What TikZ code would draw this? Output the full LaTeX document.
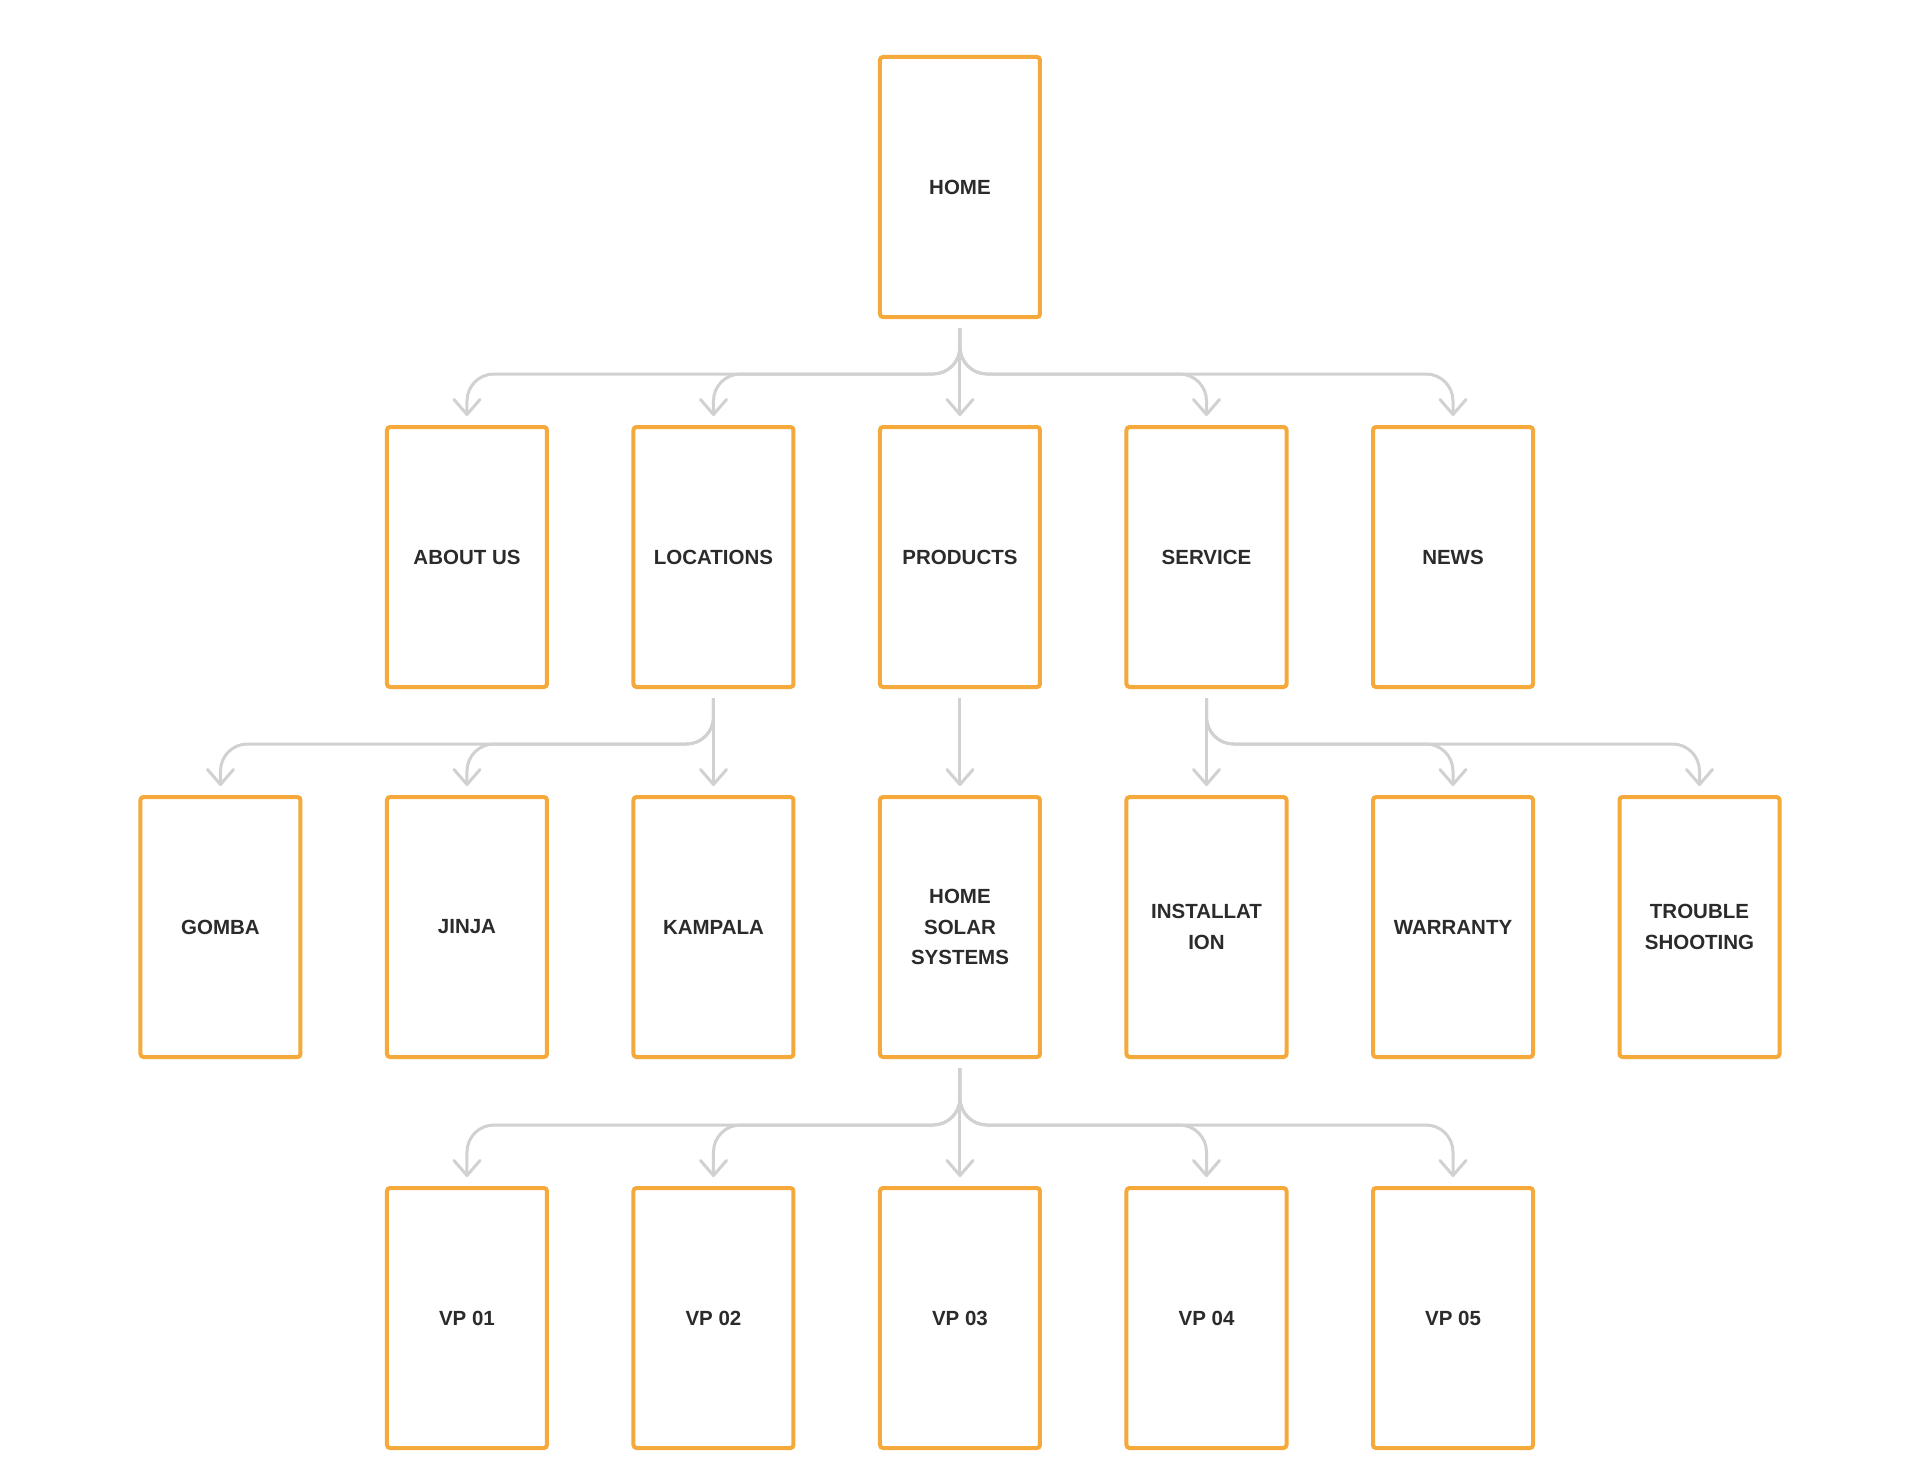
\documentclass[tikz,border=0pt]{standalone}
\usepackage{fontspec}
\setmainfont{Liberation Sans}
\usepackage{tikz}
\usetikzlibrary{positioning}
\usetikzlibrary{arrows.meta}

\definecolor{boxorange}{RGB}{244,169,58}
\definecolor{linkgray}{RGB}{210,208,209}
\definecolor{textgray}{RGB}{43,43,43}

\begin{document}
\begin{tikzpicture}[node distance = 370pt and 246.5pt, on grid,
                    page/.style = {rectangle,
                                   draw = boxorange,
                                   line width = 4pt,
                                   rounded corners = 3pt,
                                   fill = white,
                                   text = textgray,
                                   minimum width = 160pt,
                                   minimum height = 260pt,
                                   inner sep = 0pt,
                                   align = center,
                                   font = \fontsize{20.5}{30.6}\selectfont\bfseries},
                    link/.style = {draw = linkgray,
                                   line width = 3pt,
                                   rounded corners = 27pt,
                                   -{Straight Barb[length=15pt, width=26pt, line cap=round, line join=round]}}]

\node[page] (H) {HOME};
\useasboundingbox ([xshift=-960pt, yshift=187pt]H.center) rectangle ++(1920pt,-1483pt);

% second row
\node[page] (P) [below = of H] {PRODUCTS};
\node[page] (L) [left = of P]  {LOCATIONS};
\node[page] (A) [left = of L]  {ABOUT US};
\node[page] (S) [right = of P] {SERVICE};
\node[page] (N) [right = of S] {NEWS};

% third row
\node[page] (HS) [below = of P]  {HOME\\SOLAR\\SYSTEMS};
\node[page] (K)  [left = of HS]  {KAMPALA};
\node[page] (J)  [left = of K]   {JINJA};
\node[page] (G)  [left = of J]   {GOMBA};
\node[page] (I)  [right = of HS] {INSTALLAT\\ION};
\node[page] (W)  [right = of I]  {WARRANTY};
\node[page] (T)  [right = of W]  {TROUBLE\\SHOOTING};

% fourth row
\node[page] (V3) [below = 391pt of HS] {VP 03};
\node[page] (V2) [left = of V3]  {VP 02};
\node[page] (V1) [left = of V2]  {VP 01};
\node[page] (V4) [right = of V3] {VP 04};
\node[page] (V5) [right = of V4] {VP 05};

% links
\draw[link] ([yshift=-9pt]H.south) -- ([yshift=9pt]P.north);
\foreach \c in {A,L,S,N}
  \draw[link] ([yshift=-9pt]H.south) -- ++(0,-46pt) -| ([yshift=9pt]\c.north);

\draw[link] ([yshift=-9pt]L.south) -- ([yshift=9pt]K.north);
\foreach \c in {G,J}
  \draw[link] ([yshift=-9pt]L.south) -- ++(0,-46pt) -| ([yshift=9pt]\c.north);

\draw[link] ([yshift=-9pt]P.south) -- ([yshift=9pt]HS.north);

\draw[link] ([yshift=-9pt]S.south) -- ([yshift=9pt]I.north);
\foreach \c in {W,T}
  \draw[link] ([yshift=-9pt]S.south) -- ++(0,-46pt) -| ([yshift=9pt]\c.north);

\draw[link] ([yshift=-9pt]HS.south) -- ([yshift=9pt]V3.north);
\foreach \c in {V1,V2,V4,V5}
  \draw[link] ([yshift=-9pt]HS.south) -- ++(0,-57pt) -| ([yshift=9pt]\c.north);

\end{tikzpicture}
\end{document}
